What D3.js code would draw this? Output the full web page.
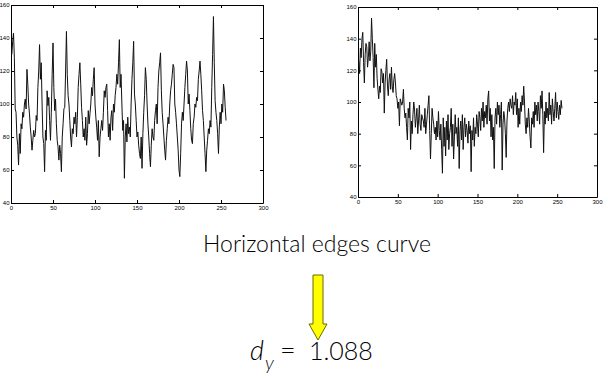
<!DOCTYPE html>
<html>
<head>
<meta charset="utf-8">
<script src="https://cdn.jsdelivr.net/npm/d3@7"></script>
<style>
  body { margin: 0; background: #fff; }
  svg { display: block; }
  .tick text { font-family: "Liberation Sans", Arial, sans-serif; font-size: 6px; fill: #000; }
</style>
</head>
<body>
<svg width="608" height="379"></svg>
<script>
// horizontal edge curve, original image (left panel)
let leftValues = [
  130, 138, 143, 128, 97, 95, 80, 75, 63, 82, 70, 88, 85, 95, 92, 100,
  103, 97, 121, 112, 100, 94, 86, 80, 72, 78, 84, 80, 82, 93, 90, 110,
  120, 136, 115, 125, 100, 80, 76, 59, 84, 78, 108, 99, 104, 90, 78, 95,
  118, 137, 110, 96, 103, 88, 78, 74, 66, 75, 70, 59, 80, 88, 97, 98,
  120, 144, 118, 105, 100, 90, 80, 74, 85, 82, 92, 88, 95, 80, 92, 110,
  118, 125, 112, 98, 90, 80, 85, 78, 92, 75, 82, 96, 88, 94, 100, 110,
  105, 115, 122, 100, 92, 86, 78, 90, 68, 80, 85, 90, 84, 95, 108, 104,
  110, 112, 96, 80, 88, 78, 92, 96, 84, 100, 95, 105, 110, 118, 112, 125,
  139, 110, 118, 100, 84, 90, 55, 80, 88, 77, 92, 82, 86, 80, 100, 115,
  125, 138, 106, 100, 90, 80, 83, 75, 70, 67, 80, 61, 82, 95, 105, 122,
  115, 100, 88, 80, 70, 62, 75, 85, 80, 78, 90, 96, 100, 88, 110, 120,
  125, 131, 108, 95, 88, 80, 72, 66, 78, 85, 92, 88, 100, 108, 112, 118,
  124, 122, 100, 95, 88, 80, 72, 60, 56, 70, 88, 95, 90, 100, 110, 118,
  126, 120, 100, 106, 96, 85, 78, 76, 88, 92, 100, 98, 104, 102, 115, 120,
  126, 118, 108, 96, 90, 80, 70, 59, 72, 78, 85, 82, 90, 86, 110, 130,
  153, 125, 102, 95, 90, 82, 70, 86, 95, 88, 100, 95, 112, 108, 98, 90
];

// horizontal edge curve, second image (right panel)
let rightValues = [
  126, 118, 134, 128, 140, 144, 125, 112, 130, 137, 135, 122, 128, 138, 126, 132,
  153, 140, 128, 109, 137, 122, 130, 115, 108, 102, 110, 106, 121, 119, 112, 118,
  93, 112, 120, 127, 110, 104, 114, 118, 108, 122, 110, 106, 114, 118, 112, 104,
  102, 96, 100, 85, 102, 100, 98, 100, 108, 96, 90, 93, 84, 76, 96, 90,
  100, 70, 88, 80, 92, 100, 95, 84, 90, 96, 80, 88, 98, 86, 82, 92,
  90, 88, 84, 96, 80, 86, 92, 98, 104, 82, 64, 80, 96, 90, 86, 80,
  84, 76, 88, 78, 94, 82, 76, 86, 70, 55, 90, 72, 84, 66, 88, 76,
  92, 70, 80, 84, 96, 72, 86, 64, 78, 92, 80, 84, 72, 90, 58, 82,
  88, 76, 92, 70, 84, 90, 78, 86, 82, 74, 88, 80, 85, 56, 82, 76,
  90, 72, 84, 80, 92, 86, 78, 94, 90, 82, 96, 88, 100, 84, 94, 90,
  98, 86, 102, 107, 88, 96, 78, 92, 76, 84, 58, 90, 96, 86, 100, 92,
  98, 84, 92, 100, 57, 86, 94, 90, 80, 65, 88, 96, 100, 94, 102, 98,
  96, 104, 92, 100, 98, 106, 92, 102, 84, 96, 86, 100, 94, 104, 98, 110,
  100, 86, 80, 90, 84, 96, 88, 78, 71, 90, 86, 94, 84, 100, 92, 98,
  88, 100, 94, 86, 104, 96, 107, 92, 68, 94, 86, 100, 90, 96, 88, 106,
  92, 98, 86, 102, 94, 88, 96, 106, 90, 100, 94, 89, 98, 92, 101, 96
];

let xTicks = [0, 50, 100, 150, 200, 250, 300];
let yTicks = [40, 60, 80, 100, 120, 140, 160];
let xDomain = [0, 300];
let yDomain = [40, 160];

let svg = d3.select("svg");

function panel(values, box) {
    let x = d3.scaleLinear().domain(xDomain).range([box.left, box.right]);
    let y = d3.scaleLinear().domain(yDomain).range([box.bottom, box.top]);
    let g = svg.append("g");

    // MATLAB-style box with inward ticks on all sides
    g.append("g")
        .attr("transform", "translate(0," + box.bottom + ")")
        .call(d3.axisBottom(x).tickValues(xTicks).tickSizeInner(-3).tickSizeOuter(0).tickPadding(3));
    g.append("g")
        .attr("transform", "translate(0," + box.top + ")")
        .call(d3.axisTop(x).tickValues(xTicks).tickSizeInner(-3).tickSizeOuter(0).tickFormat(""));
    g.append("g")
        .attr("transform", "translate(" + box.left + ",0)")
        .call(d3.axisLeft(y).tickValues(yTicks).tickSizeInner(-3).tickSizeOuter(0).tickPadding(1.5));
    g.append("g")
        .attr("transform", "translate(" + box.right + ",0)")
        .call(d3.axisRight(y).tickValues(yTicks).tickSizeInner(-3).tickSizeOuter(0).tickFormat(""));

    g.selectAll(".domain").attr("stroke", "#000").attr("stroke-width", 1);
    g.selectAll(".tick line").attr("stroke", "#000");

    let line = d3.line()
        .x(function (d, i) { return x(i + 1); })
        .y(function (d) { return y(d); });

    g.append("path")
        .datum(values)
        .attr("fill", "none")
        .attr("stroke", "#111")
        .attr("stroke-width", 1)
        .attr("d", line);
}

panel(leftValues, {left: 11, right: 263, top: 5, bottom: 203});
panel(rightValues, {left: 358, right: 597, top: 7, bottom: 197});

// caption
svg.append("text")
    .attr("x", 317)
    .attr("y", 252)
    .attr("text-anchor", "middle")
    .attr("font-family", "Lato, sans-serif")
    .attr("font-weight", 300)
    .attr("font-size", 23)
    .attr("fill", "#000")
    .text("Horizontal edges curve");

// yellow arrow
svg.append("path")
    .attr("d", "M313,275 L323,275 L323,324 L327,324 L318,340 L309,324 L313,324 Z")
    .attr("fill", "#ffff00")
    .attr("stroke", "#6b6b00")
    .attr("stroke-width", 1);

// result
let eq = svg.append("text")
    .attr("y", 360)
    .attr("font-family", "Lato, sans-serif")
    .attr("font-weight", 300)
    .attr("font-size", 27)
    .attr("fill", "#000");
eq.append("tspan").attr("x", 250).attr("font-style", "italic").text("d");
eq.append("tspan").attr("x", 265).attr("dy", 10).attr("font-size", 19).attr("font-style", "italic").text("y");

svg.append("text")
    .attr("x", 280)
    .attr("y", 360)
    .attr("font-family", "Lato, sans-serif")
    .attr("font-weight", 300)
    .attr("font-size", 27)
    .attr("fill", "#000")
    .text("=");

svg.append("text")
    .attr("x", 309)
    .attr("y", 360)
    .attr("font-family", "Lato, sans-serif")
    .attr("font-weight", 300)
    .attr("font-size", 25)
    .attr("fill", "#000")
    .text("1.088");
</script>
</body>
</html>
